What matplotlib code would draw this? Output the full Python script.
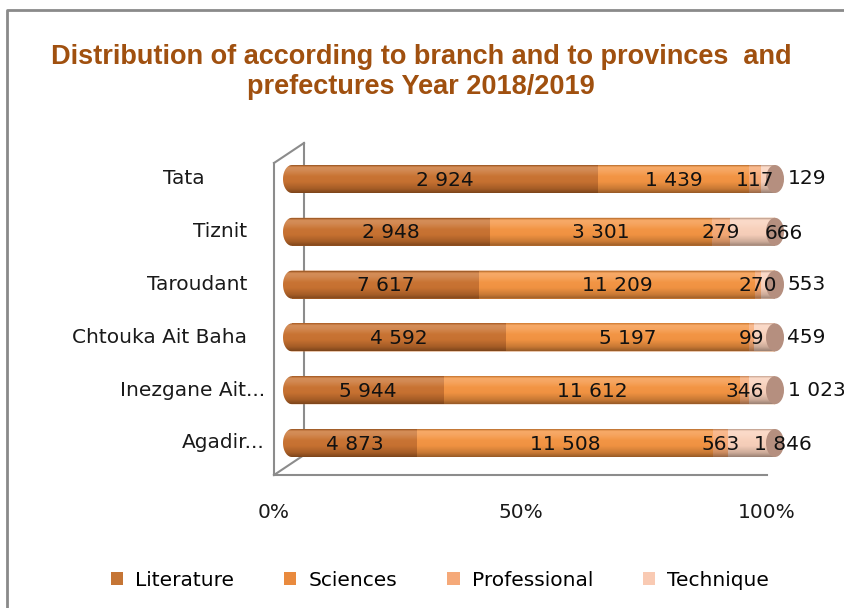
# Stacked 100% horizontal bars: students by branch, provinces and prefectures 2018/2019

import numpy as np
import matplotlib
matplotlib.use("Agg")
import matplotlib.pyplot as plt
from matplotlib.lines import Line2D
from matplotlib.patches import Patch, Ellipse, PathPatch
from matplotlib.path import Path
from matplotlib.transforms import ScaledTranslation

# ------ Données ------

provinces = ["Agadir...", "Inezgane Ait...", "Chtouka Ait Baha", "Taroudant", "Tiznit", "Tata"]
literature = [4873, 5944, 4592, 7617, 2948, 2924]
sciences = [11508, 11612, 5197, 11209, 3301, 1439]
professional = [563, 346, 99, 270, 279, 117]
technique = [1846, 1023, 459, 553, 666, 129]

branches = ["Literature", "Sciences", "Professional", "Technique"]
colors = ["#C86F2C", "#F4923E", "#F7A872", "#F9D0BA"]
legend_colors = ["#C57535", "#E98A3E", "#F5A979", "#F9CAB3"]
xticks = [0, 0.5, 1.0]
xtick_labels = ["0%", "50%", "100%"]

# décalages des étiquettes de catégories (px), effet perspective Excel
label_dx = [18, 18, 0, 0, 0, -42]

TITLE = "Distribution of according to branch and to provinces  and\nprefectures Year 2018/2019"
FS = 14.5

# ------ Figure ------

W, H = 844, 608
fig = plt.figure(figsize=(W / 100, H / 100), dpi=100)
fig.patch.set_facecolor("white")


def fx(x):
    return x / W


def fy(y):
    return 1 - y / H


# axes : x=0 -> 292 px, x=1 -> 775 px ; barres centrées de 443 à 179 px
x0_px, x1_px = 292, 775
floor_l, floor_r = 274, 767  # plancher 3D
y_bot_px, y_top_px = 469.4, 152.6
ax = fig.add_axes([fx(x0_px), fy(y_bot_px), (x1_px - x0_px) / W, (y_bot_px - y_top_px) / H])
ax.set_xlim(0, 1)
ax.set_ylim(-0.5, len(provinces) - 0.5)
ax.patch.set_visible(False)
for s in ax.spines.values():
    s.set_visible(False)
ax.set_xticks([])
ax.set_yticks([])

data = np.array([literature, sciences, professional, technique], dtype=float)
totals = data.sum(axis=0)
shares = data / totals
bar_h = 0.53
cap_w = 18 / (x1_px - x0_px)  # largeur de l'ellipse en unités de données

# dégradé "cylindre"
t = np.linspace(0, 1, 64)
grad = np.zeros((64, 1, 4))
dark = np.interp(t, [0, 0.06, 0.25, 0.6, 0.85, 1], [0.25, 0.0, 0.0, 0.02, 0.18, 0.38])
light = np.interp(t, [0, 0.08, 0.2, 0.4, 1], [0.0, 0.22, 0.18, 0.04, 0.0])
grad[:, 0, :3] = (light / np.maximum(light + dark, 1e-6))[:, None]
grad[:, 0, 3] = np.clip(light + dark, 0, 1)

for i, prov in enumerate(provinces):
    yb, yt = i - bar_h / 2, i + bar_h / 2

    # contour : demi-ellipse à gauche + rectangle
    th = np.linspace(np.pi / 2, 3 * np.pi / 2, 30)
    ex = cap_w / 2 * np.cos(th)
    ey = i + bar_h / 2 * np.sin(th)
    verts = list(zip(ex, ey)) + [(1, yb), (1, yt), (0, yt)]
    outline = Path(verts + [verts[0]], [Path.MOVETO] + [Path.LINETO] * (len(verts) - 1) + [Path.CLOSEPOLY])
    ax.add_patch(PathPatch(outline, facecolor=colors[0], edgecolor="none", zorder=1, clip_on=False))

    left = 0.0
    for k in range(4):
        ax.barh(i, shares[k, i], left=left, height=bar_h, color=colors[k], zorder=2)
        left += shares[k, i]

    clip = PathPatch(outline, facecolor="none", edgecolor="none", transform=ax.transData)
    im = ax.imshow(grad, extent=[-cap_w, 1, yb, yt], aspect="auto", zorder=3,
                   interpolation="bilinear")
    im.set_clip_box(fig.bbox)
    im.set_clip_path(clip)

    # bout droit du cylindre
    ax.add_patch(Ellipse((1, i), cap_w, bar_h, facecolor="#B58F7F", edgecolor="none",
                         zorder=4, clip_on=False))

    # étiquettes de valeurs
    left = 0.0
    for k in range(4):
        val = data[k, i]
        txt = f"{int(val):,}".replace(",", " ")
        center = left + shares[k, i] / 2
        if k == 3 and shares[k, i] < 0.07:
            ax.annotate(txt, (1, i), xytext=(9, 0), textcoords="offset points",
                        ha="left", va="center", fontsize=FS, color="#111111", zorder=6)
        elif k == 3:
            ax.annotate(txt, (1, i), xytext=(6, -1), textcoords="offset points",
                        ha="center", va="center", fontsize=FS, color="#111111", zorder=6)
        else:
            ax.text(center, i - 0.02, txt, ha="center", va="center",
                    fontsize=FS, color="#111111", zorder=6)
        left += shares[k, i]

    # étiquettes de catégories
    ax.text(0, i, prov, ha="right", va="center", fontsize=FS, color="#1a1a1a",
            transform=ax.get_yaxis_transform() + ScaledTranslation((label_dx[i] + 247 - x0_px) / 100, 0, fig.dpi_scale_trans))

# graduations de l'axe x (alignées sur le plancher 3D)
for xv, lab in zip(xticks, xtick_labels):
    dx = (floor_l + xv * (floor_r - floor_l)) - (x0_px + xv * (x1_px - x0_px))
    ax.text(xv, 0, lab, ha="center", va="center", fontsize=FS, color="#1a1a1a",
            transform=ax.get_xaxis_transform() + ScaledTranslation(dx / 100, -43 / 100, fig.dpi_scale_trans))

# ------ Parois 3D ------

wall = dict(color="#8c8c8c", linewidth=1.5, zorder=-1)
for (xa, ya), (xb, yb_) in [((274, 163), (274, 475)), ((304, 143), (304, 455)),
                            ((274, 163), (304, 143)), ((274, 475), (304, 455)),
                            ((floor_l, 475), (floor_r, 475))]:
    fig.add_artist(Line2D([fx(xa), fx(xb)], [fy(ya), fy(yb_)], **wall))

# cadre extérieur
fig.add_artist(Line2D([fx(7), fx(7), fx(W + 5)], [fy(H + 5), fy(10), fy(10)],
                      color="#8a8a8a", linewidth=2))

# ------ Titre ------

fig.text(fx(421), fy(72), TITLE, ha="center", va="center", fontsize=19.5, fontweight="bold",
         color="#A0500F", family=["Liberation Sans", "DejaVu Sans"], linespacing=1.15)

# ------ Légende ------

handles = [Patch(facecolor=c, edgecolor="none") for c in legend_colors]
fig.legend(handles, branches, loc="center", bbox_to_anchor=(fx(440), fy(580)), ncol=4,
           frameon=False, fontsize=FS, handlelength=0.6, handleheight=0.6,
           handletextpad=0.6, columnspacing=2.5)

fig.savefig("out.png", dpi=100)
